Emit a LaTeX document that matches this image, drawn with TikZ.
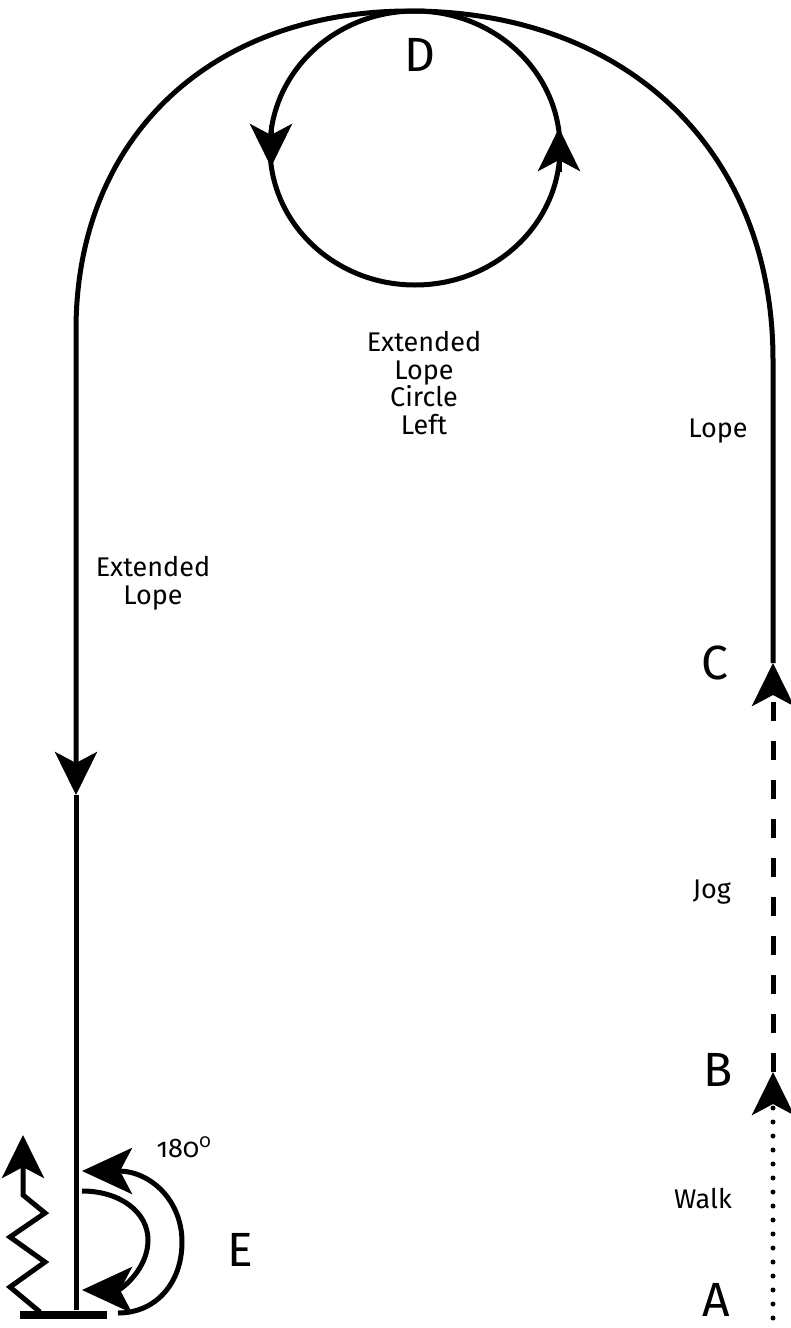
\documentclass[tikz,border=0pt]{standalone}
\usepackage{fontspec}
\setmainfont{Fira Sans}[Numbers=OldStyle]
\usetikzlibrary{arrows.meta}

\begin{document}
\begin{tikzpicture}[x=1pt,y=-1pt,
  trail/.style={line width=5pt},
  tip/.style={-{Stealth[length=43pt,width=42pt,inset=11pt]}},
  bigtip/.style={-{Stealth[length=50pt,width=46pt,inset=12pt]}},
  gait/.style={font=\fontsize{27}{27.5}\selectfont, inner sep=0pt},
  point/.style={font=\fontsize{48}{50}\selectfont, inner sep=0pt},
  walkline/.style={trail, line cap=round, dash pattern=on 0pt off 14pt},
  jogline/.style={trail, dash pattern=on 19pt off 20pt},
]
\useasboundingbox (0,0) rectangle (791,1328);

% route points
\coordinate (A) at (773,1332);
\coordinate (B) at (773,1072);
\coordinate (C) at (773,663);
\coordinate (rtop) at (773,360);
\coordinate (top) at (410,11);
\coordinate (ltop) at (76,330);
\coordinate (mid) at (76,795);
\coordinate (foot) at (76,1310);
\coordinate (barL) at (20,1315);
\coordinate (barR) at (107,1315);

% walk, jog, lope
\draw[walkline,tip] (A) -- (B);
\draw[jogline,tip] (B) -- (C);
\draw[trail,tip] (C) -- (rtop)
  .. controls (773,151) and (627,11) .. (top)
  .. controls (209,11) and (76,139) .. (ltop) -- (mid);
\draw[trail] (mid) -- (foot);
\draw[line width=7.5pt] (barL) -- (barR);

% circle at D
\coordinate (Dc) at (415,148);
\draw[trail] (Dc) ellipse [x radius=145, y radius=137];
\coordinate (dl1) at (271,125);
\coordinate (dl2) at (271,167);
\coordinate (dr1) at (559,172);
\coordinate (dr2) at (559,128);
\draw[trail,tip] (dl1) -- (dl2);
\draw[trail,tip] (dr1) -- (dr2);

% rollback at E
\coordinate (i1) at (82,1191);
\coordinate (i2) at (148,1240);
\coordinate (i3) at (82,1290);
\draw[trail,bigtip] (i1) .. controls (120,1191) and (148,1212) .. (i2)
  .. controls (148,1270) and (120,1290) .. (i3);
\coordinate (o1) at (118,1313);
\coordinate (o2) at (182,1242);
\coordinate (o3) at (82,1171);
\draw[trail,bigtip] (o1) .. controls (156,1313) and (182,1283) .. (o2)
  .. controls (182,1200) and (150,1171) .. (o3);

% zigzag departure
\draw[trail,tip,line join=miter] (40,1312) -- (10,1287) -- (45,1262)
  -- (10,1237) -- (45,1213) -- (23,1195) -- (23,1135);

% point letters
\node[point] (labD) at (420,55) {D};
\node[point] (labC) at (715,663) {C};
\node[point] (labB) at (718,1070) {B};
\node[point] (labA) at (716,1300) {A};
\node[point] (labE) at (240,1250) {E};

% gait labels
\node[gait, anchor=base] (tLope) at (718,437) {Lope};
\node[gait, anchor=base] (tJog) at (712,898) {Jog};
\node[gait, anchor=base] (tWalk) at (703,1208) {Walk};
\node[gait, anchor=base] (tTurn) at (184,1157) {180\textsuperscript{0}};
\node[gait, align=center] (tExt) at (153,583) {Extended\\Lope};
\node[gait, align=center] (tCircle) at (424,383) {Extended\\Lope\\Circle\\Left};
\end{tikzpicture}
\end{document}
